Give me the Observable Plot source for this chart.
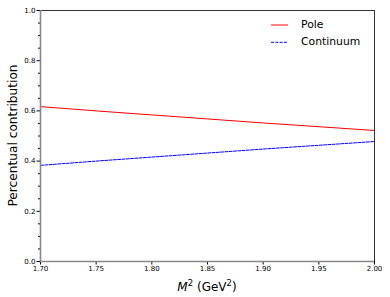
<!DOCTYPE html>
<html><head><meta charset="utf-8">
<script src="https://cdn.jsdelivr.net/npm/d3@7"></script>
<script src="https://cdn.jsdelivr.net/npm/@observablehq/plot@0.6"></script>
<style>
body{margin:0;background:#fff;}
#chart svg{display:block;}
</style>
</head><body><div id="chart"></div>
<script>
const m2 = [1.70, 1.75, 1.80, 1.85, 1.90, 1.95, 2.00];
const pole = [0.617, 0.600, 0.584, 0.568, 0.552, 0.537, 0.522];
const continuum = [0.383, 0.400, 0.416, 0.432, 0.448, 0.463, 0.478];
const xTicks = [1.70, 1.75, 1.80, 1.85, 1.90, 1.95, 2.00];
const yTicks = [0, 0.2, 0.4, 0.6, 0.8, 1.0];
const yMinor = [0.05,0.1,0.15,0.25,0.3,0.35,0.45,0.5,0.55,0.65,0.7,0.75,0.85,0.9,0.95];
const seriesNames = ["Pole", "Continuum"];
const seriesColors = ["#ff0000", "#0000ff"];

const poleData = m2.map((x,i)=>({x, y: pole[i]}));
const contData = m2.map((x,i)=>({x, y: continuum[i]}));
const font = "DejaVu Sans, sans-serif";

const W = 390, H = 297;
const plot = Plot.plot({
  width: W, height: H,
  marginLeft: 40, marginRight: 16, marginTop: 10, marginBottom: 36,
  style: {fontFamily: font, fontSize: "7px", color: "#000", background: "#fff"},
  x: {domain: [1.70, 2.00]},
  y: {domain: [0, 1]},
  marks: [
    Plot.axisX({ticks: xTicks, tickFormat: d3.format(".2f"), tickSize: 3.5, tickPadding: 1.5, label: null, fontSize: 7}),
    Plot.axisY({ticks: yTicks, tickFormat: d3.format(".1f"), tickSize: 3.5, tickPadding: 1.5, label: null, fontSize: 7}),
    Plot.axisY({ticks: yMinor, tickFormat: () => "", tickSize: 2, label: null}),
    Plot.line(poleData, {x: "x", y: "y", stroke: seriesColors[0], strokeWidth: 1}),
    Plot.line(contData, {x: "x", y: "y", stroke: seriesColors[1], strokeWidth: 1, strokeDasharray: "3,1.3"}),
    Plot.ruleY([1], {stroke: "#333", strokeWidth: 1}),
    Plot.ruleX([2.0], {stroke: "#333", strokeWidth: 1}),
    Plot.ruleX([1.70], {stroke: "#888", strokeWidth: 1.6}),
    Plot.ruleY([0], {stroke: "#888", strokeWidth: 1.6})
  ]
});
document.getElementById("chart").appendChild(plot);

const svg = d3.select(plot);
// y label
svg.append("text")
  .attr("transform", `translate(13,${(10+261)/2}) rotate(-90)`)
  .attr("text-anchor","middle").attr("dominant-baseline","middle")
  .attr("font-family", font).attr("font-size", 12.2).attr("fill","#000")
  .text("Percentual contribution");
// x label
const xl = svg.append("text")
  .attr("x", (40+374)/2).attr("y", 290.5)
  .attr("text-anchor","middle")
  .attr("font-family", font).attr("font-size", 12).attr("fill","#000");
xl.append("tspan").attr("font-style","italic").text("M");
xl.append("tspan").attr("font-size", 8.5).attr("dy", -4.5).text("2");
xl.append("tspan").attr("dy", 4.5).text(" (GeV");
xl.append("tspan").attr("font-size", 8.5).attr("dy", -4.5).text("2");
xl.append("tspan").attr("dy", 4.5).text(")");
// legend
const lg = svg.append("g");
seriesNames.forEach((name, i) => {
  const cy = 25 + i*17.3;
  lg.append("line").attr("x1",271).attr("x2",288).attr("y1",cy).attr("y2",cy)
    .attr("stroke",seriesColors[i]).attr("stroke-width",1)
    .attr("stroke-dasharray", i===1 ? "3,1.3" : null);
  lg.append("text").attr("x",301).attr("y",cy).attr("dominant-baseline","middle")
    .attr("text-anchor","start")
    .attr("font-family",font).attr("font-size",10.8).attr("fill","#000").text(name);
});
</script>
</body></html>
